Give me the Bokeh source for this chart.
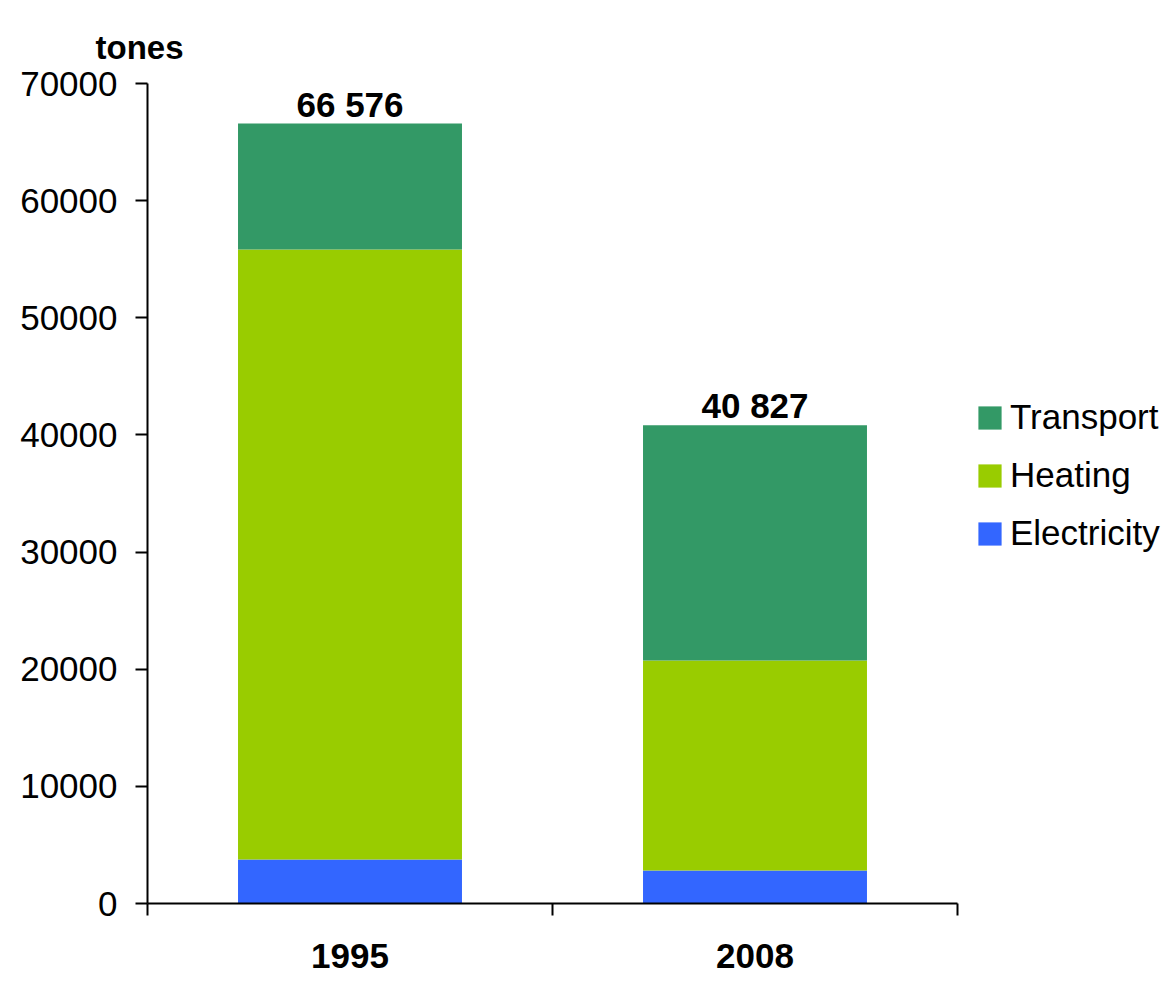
from bokeh.plotting import figure
from bokeh.models import (Range1d, FixedTicker, SingleIntervalTicker, LinearAxis,
                          Legend, LegendItem, ColumnDataSource, Title, BasicTickFormatter)
from bokeh.core.properties import value
from bokeh.embed import file_html
from bokeh.resources import INLINE

# ---- data ----
categories = ["1995", "2008"]
electricity = [3760, 2820]
heating = [52070, 17925]
transport = [10746, 20082]
series_names = ["Electricity", "Heating", "Transport"]
series_colors = ["#3366FF", "#99CC00", "#339966"]
y_ticks_interval = 10000
y_max = 70000
unit_label = "tones"

FONT = "Liberation Sans"

totals = [e + h + t for e, h, t in zip(electricity, heating, transport)]
xs = [i + 0.5 for i in range(len(categories))]

p = figure(frame_width=810, frame_height=820, output_backend="svg", toolbar_location=None,
           x_range=Range1d(0, len(categories)), y_range=Range1d(0, y_max),
           min_border_left=147, min_border_right=201, min_border_top=83, min_border_bottom=70,
           x_axis_type=None, y_axis_type=None)
p.outline_line_color = None
p.xgrid.visible = False
p.ygrid.visible = False
p.background_fill_color = "white"
p.border_fill_color = "white"

src = ColumnDataSource(dict(x=xs, cat=categories, Electricity=electricity,
                            Heating=heating, Transport=transport,
                            total=totals,
                            total_lbl=[f"{t:,}".replace(",", " ") for t in totals]))

renderers = p.vbar_stack(series_names, x="x", width=0.553, color=series_colors,
                         line_color=None, source=src)

# labels on top
p.text(x="x", y="total", text="total_lbl", source=src, text_align="center",
       text_baseline="bottom", y_offset=0, text_font=value(FONT),
       text_font_style="bold", text_font_size="35px", text_color="black")

# y axis
yaxis = LinearAxis(ticker=SingleIntervalTicker(interval=y_ticks_interval, num_minor_ticks=0),
                   formatter=BasicTickFormatter(use_scientific=False))
yaxis.axis_line_width = 2
yaxis.axis_line_color = "black"
yaxis.major_tick_line_width = 2
yaxis.major_tick_line_color = "black"
yaxis.major_tick_out = 12
yaxis.major_tick_in = 0
yaxis.minor_tick_line_color = None
yaxis.major_label_standoff = 18
yaxis.major_label_text_font = FONT
yaxis.major_label_text_font_size = "35px"
yaxis.major_label_text_color = "black"
p.add_layout(yaxis, "left")

# x axis: labels at centers, ticks at category boundaries (minor ticks)
xaxis = LinearAxis(ticker=FixedTicker(ticks=xs, minor_ticks=list(range(len(categories) + 1))))
xaxis.major_label_overrides = {x: c for x, c in zip(xs, categories)}
xaxis.axis_line_width = 2
xaxis.axis_line_color = "black"
xaxis.major_tick_line_color = None
xaxis.minor_tick_line_color = "black"
xaxis.minor_tick_line_width = 2
xaxis.minor_tick_out = 12
xaxis.minor_tick_in = 0
xaxis.major_tick_out = 12
xaxis.major_label_standoff = 28
xaxis.major_label_text_font = FONT
xaxis.major_label_text_font_style = "bold"
xaxis.major_label_text_font_size = "35px"
xaxis.major_label_text_color = "black"
p.add_layout(xaxis, "below")

# unit title
t = Title(text=unit_label, align="left", offset=-52, standoff=35,
          text_font=FONT, text_font_style="bold", text_font_size="33px",
          text_color="black")
p.add_layout(t, "above")

# legend (reverse order: Transport on top)
items = [LegendItem(label=n, renderers=[r]) for n, r in zip(series_names, renderers)][::-1]
legend = Legend(items=items, location=(18, 350), orientation="vertical",
                glyph_width=29, glyph_height=29, label_height=23, spacing=18,
                label_standoff=6, padding=0, margin=0,
                border_line_color=None, background_fill_alpha=0,
                label_text_font=FONT, label_text_font_size="35px",
                label_text_color="black")
p.add_layout(legend, "right")

open("out.html", "w").write(file_html(p, INLINE))
